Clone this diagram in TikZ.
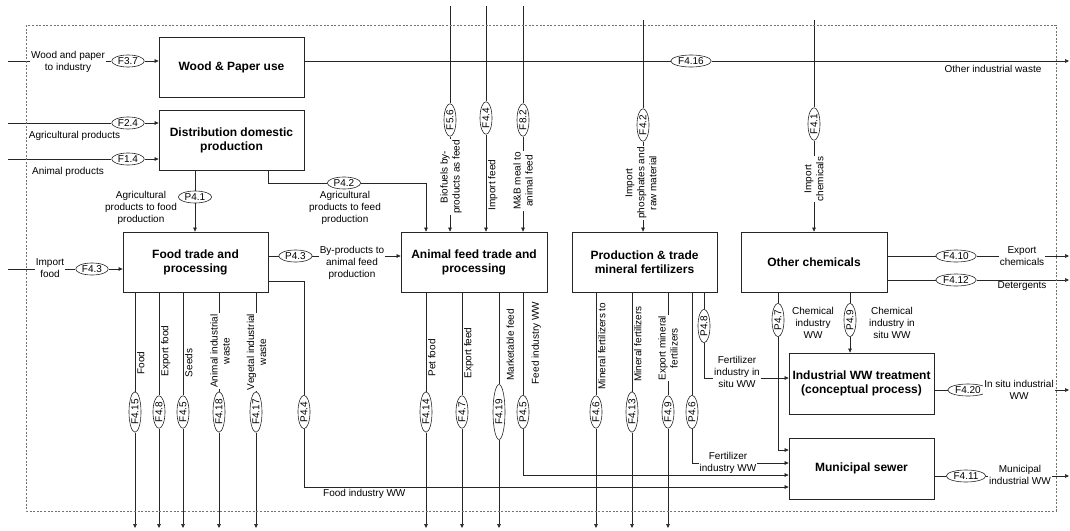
\documentclass[tikz,border=0pt]{standalone}
\usepackage{fontspec}
\setmainfont{Liberation Sans}
\usetikzlibrary{shapes.geometric,arrows.meta}
\begin{document}
\begin{tikzpicture}[x=1pt,y=-1pt,
  flowline/.style={draw=black!85,line width=0.6pt},
  flowarrow/.style={flowline,-{Triangle[length=4pt,width=3.6pt]}},
  procbox/.style={draw=black!85,line width=0.8pt,fill=white,minimum width=145pt,minimum height=60pt,
    align=center,inner sep=0pt,font=\fontsize{12}{14}\selectfont\bfseries},
  ftag/.style={ellipse,draw=black!85,line width=0.6pt,fill=white,inner xsep=1.5pt,inner ysep=0.5pt,
    text height=7pt,text depth=0.5pt,font=\fontsize{10}{12}\selectfont},
  vftag/.style={ftag,rotate=90},
  lab/.style={align=center,inner sep=1pt,font=\fontsize{10}{12}\selectfont},
  labw/.style={lab,fill=white},
  vlabw/.style={labw,rotate=90},
  sidelab/.style={lab,rotate=90,anchor=north,inner sep=0.5pt},
  sysframe/.style={draw=black!55,line width=0.7pt,dash pattern=on 2pt off 1.6pt}
]
\useasboundingbox (0,0) rectangle (1070,530);

% process boxes
\node[procbox] (wood)  at (231.5,67.5)  {Wood \& Paper use};
\node[procbox] (dist)  at (231.5,140.5) {Distribution domestic\\production};
\node[procbox] (food)  at (195.5,262)   {Food trade and\\processing};
\node[procbox,minimum width=146pt] (feed) at (474,262) {Animal feed trade and\\processing};
\node[procbox] (fert)  at (644.5,262)   {Production \& trade\\mineral fertilizers};
\node[procbox,minimum width=146pt] (chem) at (814,262) {Other chemicals};
\node[procbox,minimum height=61pt] (iww)   at (861.5,383.5) {Industrial WW treatment\\(conceptual process)};
\node[procbox,minimum height=61pt] (sewer) at (861.5,468.5) {Municipal sewer};

% flow tags
\node[ftag] (f37)  at (128,61)  {F3.7};
\node[ftag] (f416) at (691,61)  {F4.16};
\node[ftag] (f24)  at (128,123) {F2.4};
\node[ftag] (f14)  at (128,159) {F1.4};
\node[ftag] (p41)  at (195,197) {P4.1};
\node[ftag] (p42)  at (344,183) {P4.2};
\node[vftag] (f56) at (450,120) {F5.6};
\node[vftag] (f44) at (486,118) {F4.4};
\node[vftag] (f82) at (523,120) {F8.2};
\node[vftag] (f42) at (643,125) {F4.2};
\node[vftag] (f41) at (814,124) {F4.1};
\node[ftag] (p43)  at (295.5,256) {P4.3};
\node[ftag] (f43)  at (92,269)  {F4.3};
\node[vftag] (f415) at (135,412) {F4.15};
\node[vftag] (f48)  at (159,412) {F4.8};
\node[vftag] (f45)  at (183,412) {F4.5};
\node[vftag] (f418) at (219,412) {F4.18};
\node[vftag] (f417) at (256,412) {F4.17};
\node[vftag] (p44)  at (304,412) {P4.4};
\node[vftag] (f414) at (426,412) {F4.14};
\node[vftag] (f47)  at (462,412) {F4.7};
\node[vftag,minimum width=55pt] (f419) at (499,412) {F4.19};
\node[vftag] (p45)  at (523,412) {P4.5};
\node[vftag] (f46)  at (596,412) {F4.6};
\node[vftag] (f413) at (632,412) {F4.13};
\node[vftag] (f49)  at (668,412) {F4.9};
\node[vftag] (p46)  at (692,412) {P4.6};
\node[vftag] (p48)  at (704,326) {P4.8};
\node[ftag] (f410) at (956,256) {F4.10};
\node[ftag] (f412) at (956,280) {F4.12};
\node[vftag] (p47)  at (778,320) {P4.7};
\node[vftag] (p49)  at (850,320) {P4.9};
\node[ftag] (f420) at (968,390) {F4.20};
\node[ftag] (f411) at (966,476) {F4.11};

% free ends and corners
\coordinate (s37) at (8,61);
\coordinate (e416) at (1069,61);
\coordinate (s24) at (8,123);
\coordinate (s14) at (8,159);
\coordinate (t56) at (450,6);
\coordinate (t44) at (486,6);
\coordinate (t82) at (523,6);
\coordinate (t42) at (643,20);
\coordinate (t41) at (814,20);
\coordinate (s43) at (8,269);
\coordinate (e410) at (1069,256);
\coordinate (e412) at (1069,280);
\coordinate (e420) at (1069,390);
\coordinate (e411) at (1069,476);
\coordinate (bot) at (0,528);
\coordinate (k42) at (268,183);
\coordinate (k42b) at (426,183);
\coordinate (k44a) at (304,281);
\coordinate (k44b) at (304,487);
\coordinate (k45) at (523,475);
\coordinate (k46) at (692,463);
\coordinate (k48) at (704,378);
\coordinate (k47) at (778,450);

% connectors
\draw[flowarrow] (s37) -- (f37) -- (f37 -| wood.west);
\draw[flowarrow] (wood.east |- f416) -- (f416) -- (e416);
\draw[flowarrow] (s24) -- (f24) -- (f24 -| dist.west);
\draw[flowarrow] (s14) -- (f14) -- (f14 -| dist.west);
\draw[flowarrow] (dist.south -| p41) -- (p41) -- (food.north -| p41);
\draw[flowline] (dist.south -| k42) -- (k42) -- (p42);
\draw[flowarrow] (p42) -- (k42b) -- (feed.north -| k42b);
\draw[flowarrow] (t56) -- (f56) -- (feed.north -| f56);
\draw[flowarrow] (t44) -- (f44) -- (feed.north -| f44);
\draw[flowarrow] (t82) -- (f82) -- (feed.north -| f82);
\draw[flowarrow] (t42) -- (f42) -- (fert.north -| f42);
\draw[flowarrow] (t41) -- (f41) -- (chem.north -| f41);
\draw[flowarrow] (food.east |- p43) -- (p43) -- (feed.west |- p43);
\draw[flowarrow] (s43) -- (f43) -- (food.west |- f43);
\foreach \t in {f415,f48,f45,f418,f417}
  \draw[flowarrow] (food.south -| \t) -- (\t) -- (\t |- bot);
\draw[flowline] (food.east |- k44a) -- (k44a) -- (p44);
\draw[flowarrow] (p44) -- (k44b) -- (k44b -| sewer.west);
\foreach \t in {f414,f47,f419}
  \draw[flowarrow] (feed.south -| \t) -- (\t) -- (\t |- bot);
\draw[flowarrow] (feed.south -| p45) -- (p45) -- (k45) -- (k45 -| sewer.west);
\foreach \t in {f46,f413,f49}
  \draw[flowarrow] (fert.south -| \t) -- (\t) -- (\t |- bot);
\draw[flowarrow] (fert.south -| p46) -- (p46) -- (k46) -- (k46 -| sewer.west);
\draw[flowarrow] (fert.south -| p48) -- (p48) -- (k48) -- (k48 -| iww.west);
\draw[flowarrow] (chem.east |- f410) -- (f410) -- (e410);
\draw[flowarrow] (chem.east |- f412) -- (f412) -- (e412);
\draw[flowarrow] (chem.south -| p47) -- (p47) -- (k47) -- (k47 -| sewer.west);
\draw[flowarrow] (chem.south -| p49) -- (p49) -- (iww.north -| p49);
\draw[flowarrow] (iww.east |- f420) -- (f420) -- (e420);
\draw[flowarrow] (sewer.east |- f411) -- (f411) -- (e411);

% flow labels
\node[labw] (l37) at (68,62) {Wood and paper\\to industry};
\node[lab] (l416) at (993,68.5) {Other industrial waste};
\node[lab] (l24) at (74.5,135.5) {Agricultural products};
\node[lab] (l14) at (68,172) {Animal products};
\node[lab] (l41) at (141,208) {Agricultural\\products to food\\production};
\node[lab] (l42) at (345,208) {Agricultural\\products to feed\\production};
\node[vlabw] (l56) at (451,177) {Biofuels by-\\products as feed};
\node[sidelab] (l44) at (487.5,185) {Import feed};
\node[vlabw] (l82) at (523,181) {M\&B meal to\\animal feed};
\node[vlabw] (l42b) at (641,183) {Import\\phosphates and\\raw material};
\node[vlabw] (l41b) at (814,179) {Import\\chemicals};
\node[labw] (l43) at (352,263) {By-products to\\animal feed\\production};
\node[labw] (l43b) at (50,268) {Import\\food};
\node[sidelab] (l415) at (136.5,363) {Food};
\node[sidelab] (l48) at (160.5,351) {Export food};
\node[sidelab] (l45) at (184.5,363) {Seeds};
\node[vlabw] (l418) at (220,351) {Animal industrial\\waste};
\node[vlabw] (l417) at (256.5,352) {Vegetal industrial\\waste};
\node[lab,anchor=west] (l44b) at (322,493.5) {Food industry WW};
\node[sidelab] (l414) at (427.5,358) {Pet food};
\node[sidelab] (l47) at (463.5,353) {Export feed};
\node[sidelab] (l419) at (506,345) {Marketable feed};
\node[sidelab] (l45b) at (531,343) {Feed industry WW};
\node[sidelab] (l46) at (597.5,346) {Mineral fertilizers to};
\node[sidelab] (l413) at (633.5,344) {Mineral fertilizers};
\node[vlabw] (l49) at (668,348) {Export mineral\\fertilizers};
\node[labw,inner ysep=0pt] (l46b) at (728,463) {Fertilizer\\industry WW};
\node[labw] (l48b) at (737,372) {Fertilizer\\industry in\\situ WW};
\node[labw] (l410) at (1022,256.5) {Export\\chemicals};
\node[lab] (l412) at (1022,286.5) {Detergents};
\node[lab] (l47b) at (813,323) {Chemical\\industry\\WW};
\node[lab] (l49b) at (892,323) {Chemical\\industry in\\situ WW};
\node[labw] (l420) at (1019,390) {In situ industrial\\WW};
\node[labw] (l411) at (1020,475) {Municipal\\industrial WW};

% system boundary
\draw[sysframe] (26,25) rectangle (1056,511);
\end{tikzpicture}
\end{document}
